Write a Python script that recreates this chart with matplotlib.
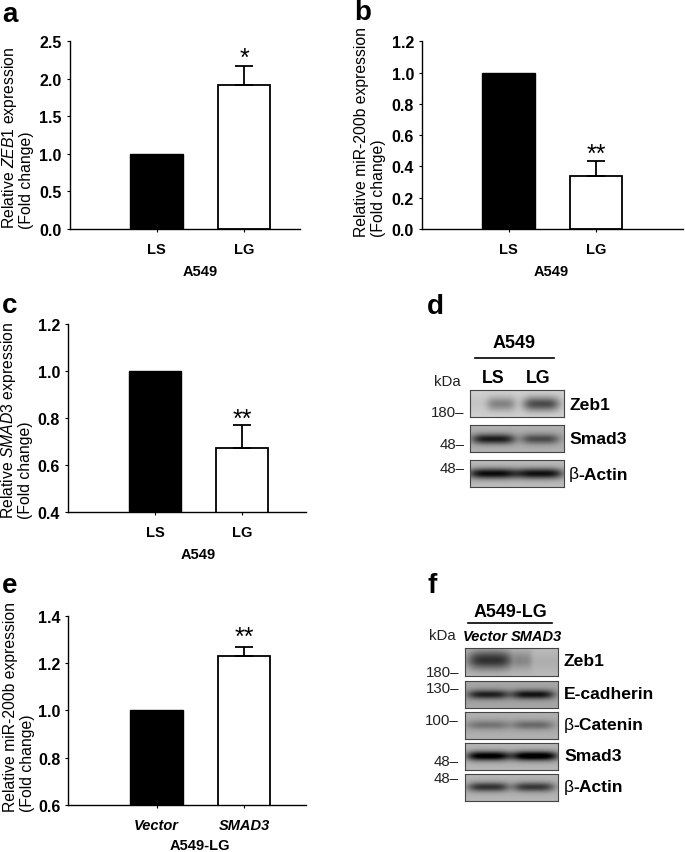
import numpy as np
import matplotlib
matplotlib.use("Agg")
import matplotlib.pyplot as plt

W, H = 685, 853

plt.rcParams['font.family'] = ['Liberation Sans', 'DejaVu Sans']
plt.rcParams['mathtext.fontset'] = 'custom'
plt.rcParams['mathtext.rm'] = 'Liberation Sans'
plt.rcParams['mathtext.it'] = 'Liberation Sans:italic'
plt.rcParams['mathtext.bf'] = 'Liberation Sans:bold'

# bar data
ls_lg = ["LS", "LG"]
vec_smad = ["Vector", "SMAD3"]

zeb1_vals = [1.0, 1.92]
zeb1_err = [0, 0.255]
mir_vals = [1.0, 0.339]
mir_err = [0, 0.098]
smad3_vals = [1.0, 0.674]
smad3_err = [0, 0.095]
mir_lg_vals = [1.0, 1.232]
mir_lg_err = [0, 0.037]

zeb1_ticks = [0.0, 0.5, 1.0, 1.5, 2.0, 2.5]
mir_ticks = [0.0, 0.2, 0.4, 0.6, 0.8, 1.0, 1.2]
smad3_ticks = [0.4, 0.6, 0.8, 1.0, 1.2]
mir_lg_ticks = [0.6, 0.8, 1.0, 1.2, 1.4]

# blot bands, darkness of each lane
blot_d_names = ["Zeb1", "Smad3", "β-Actin"]
blot_d_bg = [0.82, 0.70, 0.74]
blot_d_dark = [[0.26, 0.48], [0.55, 0.36], [0.66, 0.64]]
blot_d_kda = ["180–", "48–", "48–"]

blot_f_names = ["Zeb1", "E-cadherin", "β-Catenin", "Smad3", "β-Actin"]
blot_f_bg = [0.73, 0.66, 0.70, 0.72, 0.72]
blot_f_dark = [[0.50, 0.15], [0.50, 0.55], [0.20, 0.24], [0.72, 0.76], [0.48, 0.46]]
blot_f_kda = ["180–", "130–", "100–", "48–", "48–"]

fig = plt.figure(figsize=(W / 100, H / 100), dpi=100)


def put(x, y, s, **kw):
    kw.setdefault('ha', 'center')
    kw.setdefault('va', 'center')
    kw.setdefault('color', 'black')
    return fig.text(x / W, 1 - y / H, s, **kw)


def bar_panel(left, right, top, bottom, c0, c1, vals, errs, ticks, labels, italic=False):
    ax = fig.add_axes([left / W, 1 - bottom / H, (right - left) / W, (bottom - top) / H])
    step = c1 - c0
    ax.set_xlim((left - c0) / step, (right - c0) / step)
    ax.set_ylim(ticks[0], ticks[-1])
    ax.bar([0], vals[0], width=0.605, color='black', edgecolor='black', linewidth=1.0)
    ax.bar([1], vals[1], width=0.595, color='white', edgecolor='black', linewidth=1.3)
    ax.errorbar([1], vals[1], yerr=[[0], [errs[1]]], color='black', elinewidth=1.3,
                capsize=6.3, capthick=1.3, fmt='none')
    ax.set_xticks([0, 1])
    ax.set_xticklabels(labels, fontsize=10.5, fontweight='bold',
                       fontstyle='italic' if italic else 'normal')
    ax.set_yticks(ticks)
    ax.set_yticklabels(["%.1f" % t for t in ticks], fontsize=11.5, fontweight='bold')
    ax.tick_params(axis='x', length=2, width=0.8, pad=7.5)
    ax.tick_params(axis='y', length=2.5, width=0.8, pad=3)
    ax.spines['top'].set_visible(False)
    ax.spines['right'].set_visible(False)
    ax.spines['left'].set_linewidth(1.0)
    ax.spines['bottom'].set_linewidth(1.0)
    return ax


def ylabel2(x1, x2, bottom, line1, size=11.3):
    put(x1, bottom, line1, rotation=90, va='bottom', fontsize=size)
    put(x2, bottom, "(Fold change)", rotation=90, va='bottom', fontsize=size)


def blot(left, right, top, bottom, bg, dark, lanes, wide, tall=0.16, cy=0.52):
    ny, nx = 60, 200
    xs = np.linspace(0, 1, nx)
    ys = np.linspace(0, 1, ny)
    X, Y = np.meshgrid(xs, ys)
    img = np.full((ny, nx), float(bg))
    img -= 0.05 * (np.abs(Y - 0.5) * -2 + 1)
    for cx, d, w in zip(lanes, dark, wide):
        img -= d * np.exp(-((X - cx) / w) ** 4) * np.exp(-((Y - cy) / tall) ** 2)
    ax = fig.add_axes([left / W, 1 - bottom / H, (right - left) / W, (bottom - top) / H])
    ax.imshow(np.clip(img, 0, 1), cmap='gray', vmin=0, vmax=1, aspect='auto',
              interpolation='bilinear')
    ax.set_xticks([])
    ax.set_yticks([])
    for s in ax.spines.values():
        s.set_color('#444444')
        s.set_linewidth(0.8)


# panel a
bar_panel(69.5, 300, 42.3, 230, 156.7, 244, zeb1_vals, zeb1_err, zeb1_ticks, ls_lg)
ylabel2(9.5, 26.5, 229, r"Relative $\mathit{ZEB1}$ expression")
put(200, 272, "A549", fontsize=10.5, fontweight='bold')
put(244, 59, "*", fontsize=18)

# panel b
bar_panel(421.7, 683, 42.3, 230, 508.5, 596, mir_vals, mir_err, mir_ticks, ls_lg)
ylabel2(361.5, 379, 237, "Relative miR-200b expression")
put(551.7, 272, "A549", fontsize=10.5, fontweight='bold')
put(596, 155, "**", fontsize=18)

# panel c
bar_panel(67.7, 306, 325, 513, 155, 242, smad3_vals, smad3_err, smad3_ticks, ls_lg)
ylabel2(9, 25.5, 519, r"Relative $\mathit{SMAD3}$ expression")
put(198, 555, "A549", fontsize=10.5, fontweight='bold')
put(242, 420, "**", fontsize=18)

# panel e
bar_panel(68.3, 306, 617, 805.7, 156.7, 244, mir_lg_vals, mir_lg_err, mir_lg_ticks, vec_smad, italic=True)
ylabel2(10.5, 27.5, 812, "Relative miR-200b expression")
put(200, 846.5, "A549-LG", fontsize=10.5, fontweight='bold')
put(244, 638, "**", fontsize=18)

# panel letters
for x, y, s in [(2, 21.5, "a"), (354, 20.5, "b"), (2, 313, "c"),
                (427, 314, "d"), (2, 593, "e"), (428, 593, "f")]:
    put(x, y, s, ha='left', va='baseline', fontsize=20, fontweight='bold')


def name_label(x, y, name, size=12.6):
    if name.startswith("β"):
        put(x, y, "β", ha='left', fontsize=size)
        put(x + 9.5, y, name[1:], ha='left', fontsize=size, fontweight='bold')
    else:
        put(x, y, name, ha='left', fontsize=size, fontweight='bold')


# panel d blots
d_rows = [(391.3, 418.3), (425.7, 452.7), (460.7, 488.3)]
d_widths = [[0.15, 0.19], [0.23, 0.20], [0.26, 0.25]]
d_lanes = [[0.33, 0.76], [0.25, 0.75], [0.24, 0.74]]
for i, (t, b) in enumerate(d_rows):
    blot(469.7, 563.7, t, b, blot_d_bg[i], blot_d_dark[i], d_lanes[i], d_widths[i],
         tall=0.26 if i == 0 else 0.19)
    name_label(569, (t + b) / 2 + 0.5, blot_d_names[i])
for y, s in zip([413, 445, 469], blot_d_kda):
    put(464.5, y, s, ha='right', fontsize=10.8, color='#222222')
put(447, 381.7, "kDa", fontsize=10.8, color='#222222')
put(514, 343, "A549", fontsize=13, fontweight='bold')
fig.add_artist(plt.Line2D([475 / W, 554.3 / W], [1 - 359.3 / H] * 2, color='black', lw=1.2))
put(493.7, 378.7, "LS", fontsize=12.8, fontweight='bold')
put(537.7, 378.7, "LG", fontsize=12.8, fontweight='bold')

# panel f blots
f_rows = [(649.3, 676.7), (682.3, 709.3), (712.7, 740), (744, 771.3), (774.7, 802)]
f_widths = [[0.24, 0.09], [0.22, 0.23], [0.23, 0.22], [0.23, 0.25], [0.22, 0.22]]
f_lanes = [[0.27, 0.63], [0.25, 0.73], [0.25, 0.73], [0.25, 0.75], [0.25, 0.74]]
for i, (t, b) in enumerate(f_rows):
    blot(465, 557.7, t, b, blot_f_bg[i], blot_f_dark[i], f_lanes[i], f_widths[i],
         tall=0.34 if i == 0 else 0.17, cy=0.42 if i == 0 else 0.5)
    name_label(564, (t + b) / 2 - 1, blot_f_names[i])
for y, s in zip([673.3, 689.3, 721, 761.7, 779.3], blot_f_kda):
    put(459, y, s, ha='right', fontsize=10.8, color='#222222')
put(442.3, 636, "kDa", fontsize=10.8, color='#222222')
put(510, 612.7, "A549-LG", fontsize=12.9, fontweight='bold')
fig.add_artist(plt.Line2D([468.3 / W, 552 / W], [1 - 624.3 / H] * 2, color='black', lw=1.2))
put(485, 637.3, "Vector", fontsize=10.5, fontweight='bold', fontstyle='italic')
put(536.7, 637.3, "SMAD3", fontsize=10.5, fontweight='bold', fontstyle='italic')

fig.savefig("out.png", dpi=100)
